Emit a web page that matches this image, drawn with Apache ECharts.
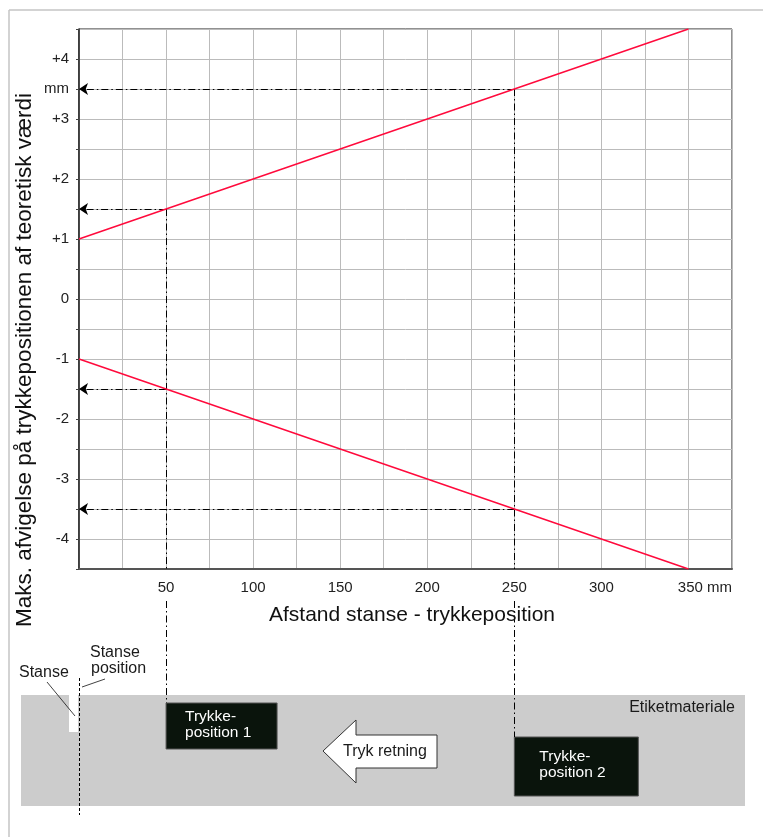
<!DOCTYPE html>
<html><head><meta charset="utf-8">
<script src="https://cdn.jsdelivr.net/npm/echarts@6/dist/echarts.min.js"></script>
<style>html,body{margin:0;padding:0;background:#fff}#c{width:763px;height:837px}</style>
</head><body><div id="c"></div>
<script>
// ---- data ----
const upperLine = [[0, 1], [50, 1.5], [250, 3.5], [350, 4.5]];
const lowerLine = [[0, -1], [50, -1.5], [250, -3.5], [350, -4.5]];
const readPositions = [50, 250];
const upperReadings = [1.5, 3.5];
const lowerReadings = [-1.5, -3.5];
const xTickLabels = { 50: '50', 100: '100', 150: '150', 200: '200', 250: '250', 300: '300', 350: '350 mm' };
const yTickLabels = { '4': '+4', '3.5': 'mm', '3': '+3', '2': '+2', '1': '+1', '0': '0', '-1': '-1', '-2': '-2', '-3': '-3', '-4': '-4' };
const xTitle = 'Afstand stanse - trykkeposition';
const yTitle = 'Maks. afvigelse på trykkepositionen af teoretisk værdi';

const FONT = "'Liberation Sans', Arial, sans-serif";
const chart = echarts.init(document.getElementById('c'), null, { renderer: 'canvas' });

const arrowLines = [];
const vertLines = [];
readPositions.forEach((p, i) => {
  arrowLines.push({ coords: [[p, upperReadings[i]], [0, upperReadings[i]]] });
  arrowLines.push({ coords: [[p, lowerReadings[i]], [0, lowerReadings[i]]] });
  vertLines.push({ coords: [[p, upperReadings[i]], [p, -4.5]] });
});
const dashDot = [7, 3, 1.5, 3];

chart.setOption({
  animation: false,
  grid: { left: 79, top: 29, width: 653, height: 540, show: true, borderColor: '#222', borderWidth: 1, containLabel: false },
  xAxis: {
    type: 'value', min: 0, max: 375, interval: 25,
    axisLine: { show: true, onZero: false, lineStyle: { color: '#555', width: 2 } },
    axisTick: { show: false },
    splitLine: { show: true, lineStyle: { color: '#bbbbbb', width: 1 } },
    axisLabel: {
      margin: 11, color: '#222', fontSize: 15, fontFamily: FONT,
      formatter: v => {
        const t = xTickLabels[v];
        if (!t) return '';
        if (v === 350) return '{p|}350 mm';
        return t;
      },
      rich: { p: { width: 33, fontSize: 15, fontFamily: FONT } }
    }
  },
  yAxis: {
    type: 'value', min: -4.5, max: 4.5, interval: 0.5,
    axisLine: { show: true, onZero: false, lineStyle: { color: '#222', width: 1.5 } },
    axisTick: { show: true, length: 3, lineStyle: { color: '#444' } },
    splitLine: { show: true, lineStyle: { color: '#bbbbbb', width: 1 } },
    axisLabel: {
      margin: 10, color: '#222', fontSize: 15, fontFamily: FONT,
      formatter: v => { const k = String(Math.round(v * 10) / 10); return yTickLabels[k] || ''; }
    }
  },
  series: [
    { type: 'line', data: upperLine, showSymbol: false, silent: true, lineStyle: { color: '#ff0a3c', width: 1.5 }, z: 4 },
    { type: 'line', data: lowerLine, showSymbol: false, silent: true, lineStyle: { color: '#ff0a3c', width: 1.5 }, z: 4 },
    { type: 'lines', coordinateSystem: 'cartesian2d', silent: true, symbol: ['none', 'arrow'], symbolSize: 9,
      lineStyle: { color: '#000', width: 1, type: dashDot, opacity: 1, curveness: 0 }, data: arrowLines, z: 3 },
    { type: 'lines', coordinateSystem: 'cartesian2d', silent: true, symbol: 'none',
      lineStyle: { color: '#000', width: 1, type: dashDot, opacity: 1, curveness: 0 }, data: vertLines, z: 3 }
  ]
});

// ---- diagram below the chart ----
const px = (x, y) => chart.convertToPixel({ gridIndex: 0 }, [x, y]);
const x0 = px(0, 0)[0];
const x1 = px(readPositions[0], 0)[0];
const x2 = px(readPositions[1], 0)[0];
const grey = { top: 695, bottom: 806, left: 21, right: 745 };
const box1 = { x: x1, y: 703, w: 111, h: 46 };
const box2 = { x: x2, y: 737, w: 124, h: 59 };
const txt = (text, x, y, opt) => ({ type: 'text', silent: true, z: 20,
  style: Object.assign({ text, x, y, fill: '#1a1a1a', font: '16px ' + FONT, textAlign: 'left', textVerticalAlign: 'middle' }, opt || {}) });
const seg = (xa, ya, xb, yb, style) => ({ type: 'line', silent: true, z: 15,
  shape: { x1: xa, y1: ya, x2: xb, y2: yb }, style: Object.assign({ stroke: '#111', lineWidth: 1 }, style || {}) });
const sx1 = Math.round(x1) + 0.5, sx2 = Math.round(x2) + 0.5;

chart.setOption({
  graphic: [
    // outer frame
    seg(9, 10, 763, 10, { stroke: '#c4c4c4', lineWidth: 1.5 }),
    seg(9, 10, 9, 837, { stroke: '#c4c4c4', lineWidth: 1.5 }),
    // titles
    txt(xTitle, 412, 615, { font: '21px ' + FONT, textAlign: 'center', fill: '#111' }),
    { type: 'text', silent: true, x: 25, y: 360, rotation: Math.PI / 2,
      style: { text: yTitle, x: 0, y: 0, font: '22.5px ' + FONT, fill: '#111', textAlign: 'center', textVerticalAlign: 'middle' } },
    // label material
    { type: 'rect', silent: true, z: 10, shape: { x: grey.left, y: grey.top, width: grey.right - grey.left, height: grey.bottom - grey.top }, style: { fill: '#cccccc' } },
    txt('Etiketmateriale', 735, 708, { textAlign: 'right' }),
    // stanse
    { type: 'rect', silent: true, z: 12, shape: { x: x0 - 10, y: grey.top, width: 9, height: 37 }, style: { fill: '#ffffff' } },
    seg(Math.round(x0) + 0.5, 678, Math.round(x0) + 0.5, 815, { lineDash: [3, 2], lineWidth: 1, stroke: '#000' }),
    txt('Stanse', 19, 673),
    seg(47, 682, x0 - 4, 716, { lineWidth: 0.8 }),
    txt('Stanse', 90, 653),
    txt('position', 91, 669),
    seg(x0 + 3, 687, 105, 679, { lineWidth: 0.8 }),
    // dash-dot extensions
    seg(sx1, 601, sx1, box1.y, { lineDash: dashDot, stroke: '#000' }),
    seg(sx2, 601, sx2, box2.y, { lineDash: dashDot, stroke: '#000' }),
    // print position boxes
    { type: 'rect', silent: true, z: 13, shape: { x: box1.x, y: box1.y, width: box1.w, height: box1.h }, style: { fill: '#0a140c', stroke: '#555', lineWidth: 1 } },
    txt('Trykke-', box1.x + 19, 717, { fill: '#ffffff', font: '15.5px ' + FONT }),
    txt('position 1', box1.x + 19, 733, { fill: '#ffffff', font: '15.5px ' + FONT }),
    { type: 'rect', silent: true, z: 13, shape: { x: box2.x, y: box2.y, width: box2.w, height: box2.h }, style: { fill: '#0a140c', stroke: '#555', lineWidth: 1 } },
    txt('Trykke-', box2.x + 25, 757, { fill: '#ffffff', font: '15.5px ' + FONT }),
    txt('position 2', box2.x + 25, 773, { fill: '#ffffff', font: '15.5px ' + FONT }),
    // direction arrow
    { type: 'polygon', silent: true, z: 13,
      shape: { points: [[323, 751], [356, 720], [356, 735], [437, 735], [437, 768], [356, 768], [356, 783]] },
      style: { fill: '#ffffff', stroke: '#333', lineWidth: 1 } },
    txt('Tryk retning', 343, 752)
  ]
});
</script>
</body></html>
